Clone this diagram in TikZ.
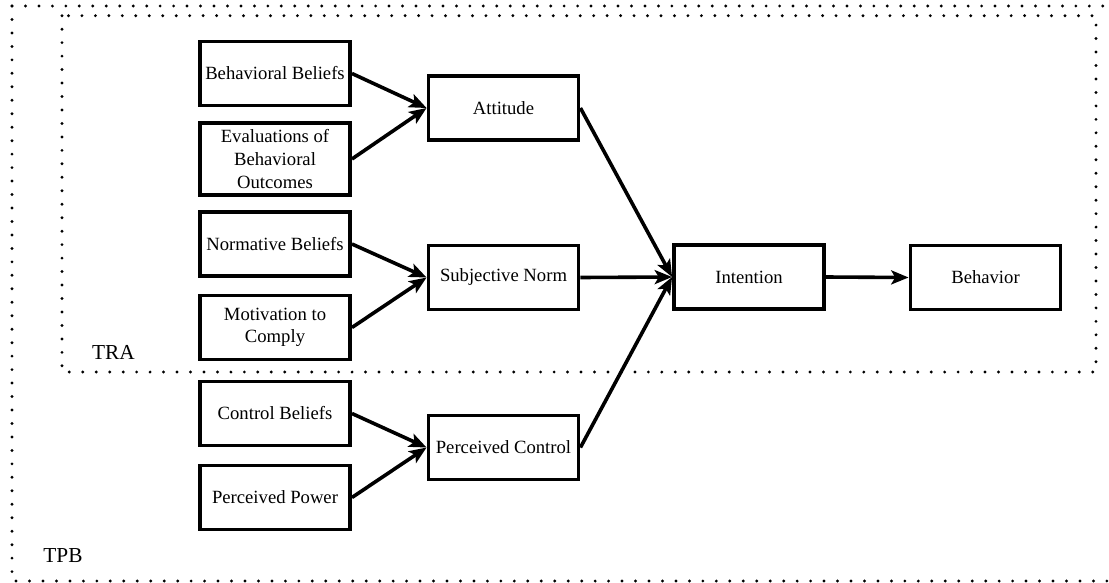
\documentclass[tikz,border=0pt]{standalone}
\usepackage{fontspec}
\setmainfont{Liberation Serif}
\usetikzlibrary{arrows.meta}
\begin{document}
\begin{tikzpicture}[x=0.75pt,y=-0.75pt,
  >={Stealth[length=13pt,width=10.5pt,inset=3pt]},
  box/.style={draw, line width=2.9pt, minimum width=112.5pt, minimum height=48pt,
    inner sep=2pt, align=center, font=\fontsize{14}{16.9}\selectfont},
  tallbox/.style={box, minimum height=54pt},
  connector/.style={line width=2.7pt, ->},
  region/.style={line width=2.4pt, line cap=round, dash pattern=on 0pt off 10.1pt},
  tag/.style={font=\fontsize{16}{19}\selectfont, inner sep=0pt}]
\useasboundingbox (0,0) rectangle (1109,582);
% regions
\draw[region] (12,6) -- (1125,6);
\draw[region] (12,6) -- (12,581) -- (1125,581);
\draw[region] (62,15.7) rectangle (1096,372);
\node[tag] (tra) at (113.5,352) {TRA};
\node[tag] (tpb) at (63,556) {TPB};
% left column
\node[box] (bb) at (275,73.5) {Behavioral Beliefs};
\node[tallbox] (ev) at (275,159) {Evaluations of\\Behavioral\\Outcomes};
\node[box] (nb) at (275,244) {Normative Beliefs};
\node[box] (mc) at (275,327.5) {Motivation to\\Comply};
\node[box] (cb) at (275,413.5) {Control Beliefs};
\node[box] (pp) at (275,497.5) {Perceived Power};
% middle column
\node[box] (att) at (503.5,108) {Attitude};
\node[box] (sn) at (503.5,277.5) {Subjective Norm};
\node[box] (pc) at (503.5,447.5) {Perceived Control};
% right
\node[box] (int) at (749,277) {Intention};
\node[box] (beh) at (985.5,277.5) {Behavior};
% connectors
\draw[connector] (bb.east) -- (att.west);
\draw[connector] (ev.east) -- (att.west);
\draw[connector] (nb.east) -- (sn.west);
\draw[connector] (mc.east) -- (sn.west);
\draw[connector] (cb.east) -- (pc.west);
\draw[connector] (pp.east) -- (pc.west);
\draw[connector] (att.east) -- (int.west);
\draw[connector] (sn.east) -- (int.west);
\draw[connector] (pc.east) -- (int.west);
\draw[connector] (int.east) -- (beh.west);
\end{tikzpicture}
\end{document}
